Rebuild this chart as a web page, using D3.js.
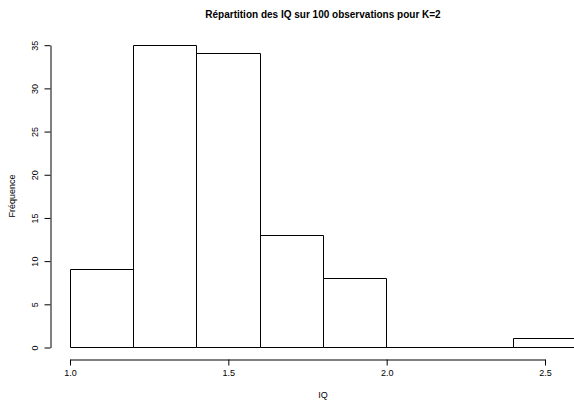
<!DOCTYPE html>
<html>
<head>
<meta charset="utf-8">
<script src="https://cdn.jsdelivr.net/npm/d3@7"></script>
<style>
  body { margin: 0; background: #fff; }
  text { font-family: "Liberation Sans", Arial, sans-serif; fill: #000; }
</style>
</head>
<body>
<script>
// histogram bins and counts
const binEdges = [1.0, 1.2, 1.4, 1.6, 1.8, 2.0, 2.2, 2.4, 2.6];
const counts = [9, 35, 34, 13, 8, 0, 0, 1];
const xTicks = [1.0, 1.5, 2.0, 2.5];
const yTicks = [0, 5, 10, 15, 20, 25, 30, 35];

const bins = counts.map((c, i) => ({ x0: binEdges[i], x1: binEdges[i + 1], n: c }));

let width = 574, height = 402;

let x = d3.scaleLinear()
    .domain([1.0, 2.5])
    .range([69.5, 544.5]);

let y = d3.scaleLinear()
    .domain([0, 35])
    .range([347, 44.7]);

let svg = d3.select('body').append('svg')
    .attr('width', width)
    .attr('height', height);

/**
 * outline of one bar, drawn as a path so empty bins still show their base
 */
function barPath(d) {
    const l = Math.round(x(d.x0)) + 0.5;
    const r = Math.round(x(d.x1)) + 0.5;
    const b = Math.round(y(0)) + 0.5;
    const t = Math.round(y(d.n)) + 0.5;
    return `M${l},${b}V${t}H${r}V${b}Z`;
}

// bars
svg.append('g').selectAll('path')
    .data(bins)
    .enter()
    .append('path')
    .attr('d', barPath)
    .attr('fill', '#fff')
    .attr('stroke', '#000')
    .attr('stroke-width', 1);

// x axis
let xAxis = d3.axisBottom(x)
    .tickValues(xTicks)
    .tickFormat(d3.format('.1f'))
    .tickSizeInner(6)
    .tickSizeOuter(0)
    .tickPadding(4);

let gx = svg.append('g')
    .attr('transform', 'translate(0.5,359.5)')
    .call(xAxis);
gx.selectAll('text').attr('font-size', 9).attr('font-family', 'Liberation Sans, Arial, sans-serif');
gx.selectAll('line, path').attr('stroke', '#000');

// y axis
let yAxis = d3.axisLeft(y)
    .tickValues(yTicks)
    .tickSizeInner(6)
    .tickSizeOuter(0)
    .tickFormat(d3.format('d'));

let gy = svg.append('g')
    .attr('transform', 'translate(50.5,0.5)')
    .call(yAxis);
gy.selectAll('line, path').attr('stroke', '#000');
gy.selectAll('text')
    .attr('font-size', 9)
    .attr('font-family', 'Liberation Sans, Arial, sans-serif')
    .attr('text-anchor', 'middle')
    .attr('dy', 0)
    .attr('x', 0)
    .attr('transform', d => 'translate(-13,0) rotate(-90)');

// title and axis labels
svg.append('text')
    .attr('x', 323)
    .attr('y', 18)
    .attr('text-anchor', 'middle')
    .attr('font-size', 10)
    .attr('font-weight', 'bold')
    .text('Répartition des IQ sur 100 observations pour K=2');

svg.append('text')
    .attr('x', 323)
    .attr('y', 398)
    .attr('text-anchor', 'middle')
    .attr('font-size', 9)
    .text('IQ');

svg.append('text')
    .attr('transform', 'translate(15,196) rotate(-90)')
    .attr('text-anchor', 'middle')
    .attr('font-size', 9)
    .text('Fréquence');
</script>
</body>
</html>
